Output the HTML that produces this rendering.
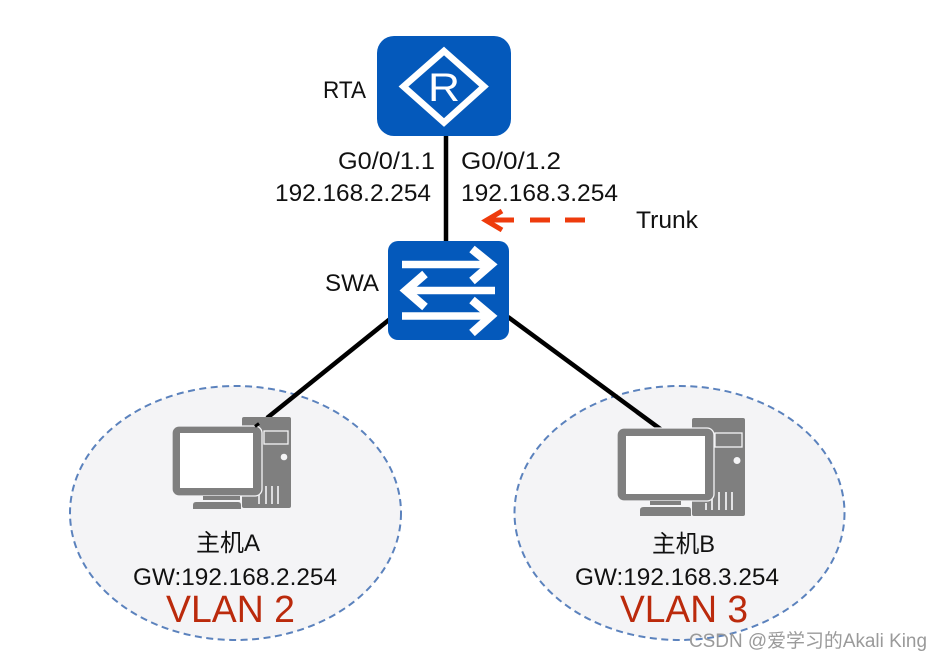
<!DOCTYPE html>
<html><head><meta charset="utf-8"><style>
html,body{margin:0;padding:0;background:#fff}
svg{display:block}
text{fill:#111}
.t{font-family:"Liberation Sans","Noto Sans CJK SC",sans-serif;font-size:24px}
.v{font-family:"Liberation Sans",sans-serif;font-size:38px;fill:#bb2a0c}
</style></head><body>
<svg width="942" height="660" viewBox="0 0 942 660" xmlns="http://www.w3.org/2000/svg">

<ellipse cx="235.500" cy="513" rx="165.500" ry="127" fill="#f4f4f6" stroke="#5b82bd" stroke-width="2" stroke-dasharray="7 4.500"/>
<ellipse cx="679.500" cy="513" rx="165" ry="127" fill="#f4f4f6" stroke="#5b82bd" stroke-width="2" stroke-dasharray="7 4.500"/>

<path d="M446 130V245" stroke="#000" stroke-width="4.500"/>
<path d="M390 319L267 418" stroke="#000" stroke-width="4.500"/>
<path d="M508 317L663 431" stroke="#000" stroke-width="4.500"/>

<!-- PC A -->
<path d="M244 417H289Q291 417 291 419V506Q291 508 289 508H244Q242 508 242 506V419Q242 417 244 417Z" fill="#7f7f7f"/>
<rect x="264" y="431" width="24" height="13" fill="#7f7f7f" stroke="#f4f4f6" stroke-width="1.300"/>
<circle cx="284" cy="457" r="3.300" fill="#f4f4f6"/>
<path d="M259 492V504M266 486V504M272 486V504M278 486V504" stroke="#f4f4f6" stroke-width="1.600"/>
<rect x="172" y="426" width="90" height="70" rx="7" fill="#7f7f7f" stroke="#f4f4f6" stroke-width="1.300"/>
<rect x="180" y="433" width="73" height="55" fill="#fff"/>
<rect x="203" y="496" width="37" height="4" fill="#7f7f7f"/>
<path d="M196 502H238Q241 502 241 505V509H193V505Q193 502 196 502Z" fill="#7f7f7f"/>
<path d="M255 426.500L259 423.500" stroke="#000" stroke-width="3"/>

<!-- PC B -->
<path d="M694 418H743Q745 418 745 420V514Q745 516 743 516H694Q692 516 692 514V420Q692 418 694 418Z" fill="#7f7f7f"/>
<rect x="715" y="433" width="27" height="14" fill="#7f7f7f" stroke="#f4f4f6" stroke-width="1.300"/>
<circle cx="737" cy="460.500" r="3.500" fill="#f4f4f6"/>
<path d="M706 503V510M712 498V510M719 492V510M726 492V510M732 492V510" stroke="#f4f4f6" stroke-width="1.700"/>
<rect x="617" y="428" width="97" height="73" rx="7" fill="#7f7f7f" stroke="#f4f4f6" stroke-width="1.300"/>
<rect x="626" y="436" width="79" height="58" fill="#fff"/>
<rect x="650" y="501" width="31" height="4" fill="#7f7f7f"/>
<path d="M644 507H688Q691 507 691 510V516H640V510Q640 507 644 507Z" fill="#7f7f7f"/>

<!-- Router -->
<rect x="377" y="36" width="134" height="100" rx="17" fill="#0459bb"/>
<path d="M444 51L484 86.500L444 122.500L403.500 86.500Z" fill="none" stroke="#fff" stroke-width="6.500"/>
<text x="428" y="101" textLength="32" lengthAdjust="spacingAndGlyphs" style="font-family:'Liberation Sans',sans-serif;font-size:40px;fill:#fff">R</text>

<!-- Switch -->
<rect x="388" y="241" width="121" height="99" rx="10" fill="#0459bb"/>
<g fill="none" stroke="#fff" stroke-width="7.500">
<path d="M402 264.500H488M402 316H488M407 290.500H495"/>
</g>
<g fill="none" stroke="#fff" stroke-width="8.500">
<path d="M472 249L491 264.500L472 281"/>
<path d="M425 274L406 290.500L425 307"/>
<path d="M472 300L491 316L472 333"/>
</g>

<!-- Trunk arrow -->
<g fill="none" stroke="#ee3b0c" stroke-width="5">
<path d="M486 220H514M502 211L486 220.500L502 230"/>
<path d="M530 220H550M565 220H585"/>
</g>

<text class="t" x="323" y="98" textLength="43" lengthAdjust="spacingAndGlyphs">RTA</text>
<text class="t" x="325" y="291" textLength="54" lengthAdjust="spacingAndGlyphs">SWA</text>
<text class="t" x="338" y="169" textLength="97" lengthAdjust="spacingAndGlyphs">G0/0/1.1</text>
<text class="t" x="275" y="201" textLength="156" lengthAdjust="spacingAndGlyphs">192.168.2.254</text>
<text class="t" x="461" y="169" textLength="100" lengthAdjust="spacingAndGlyphs">G0/0/1.2</text>
<text class="t" x="461" y="201" textLength="157" lengthAdjust="spacingAndGlyphs">192.168.3.254</text>
<text class="t" x="636" y="228" textLength="62" lengthAdjust="spacingAndGlyphs">Trunk</text>
<text class="t" x="196" y="551" textLength="64" lengthAdjust="spacingAndGlyphs">主机A</text>
<text class="t" x="652" y="552" textLength="63" lengthAdjust="spacingAndGlyphs">主机B</text>
<text class="t" x="133" y="585" textLength="204" lengthAdjust="spacingAndGlyphs">GW:192.168.2.254</text>
<text class="t" x="575" y="585" textLength="204" lengthAdjust="spacingAndGlyphs">GW:192.168.3.254</text>
<text class="v" x="166" y="622" textLength="129" lengthAdjust="spacingAndGlyphs">VLAN 2</text>
<text class="v" x="620" y="622" textLength="128" lengthAdjust="spacingAndGlyphs">VLAN 3</text>
<text x="689" y="647" textLength="238" lengthAdjust="spacingAndGlyphs" style="font-family:'Liberation Sans','Noto Sans CJK SC',sans-serif;font-size:19px;fill:#9a9a9a">CSDN @爱学习的Akali King</text>
</svg>
</body></html>
